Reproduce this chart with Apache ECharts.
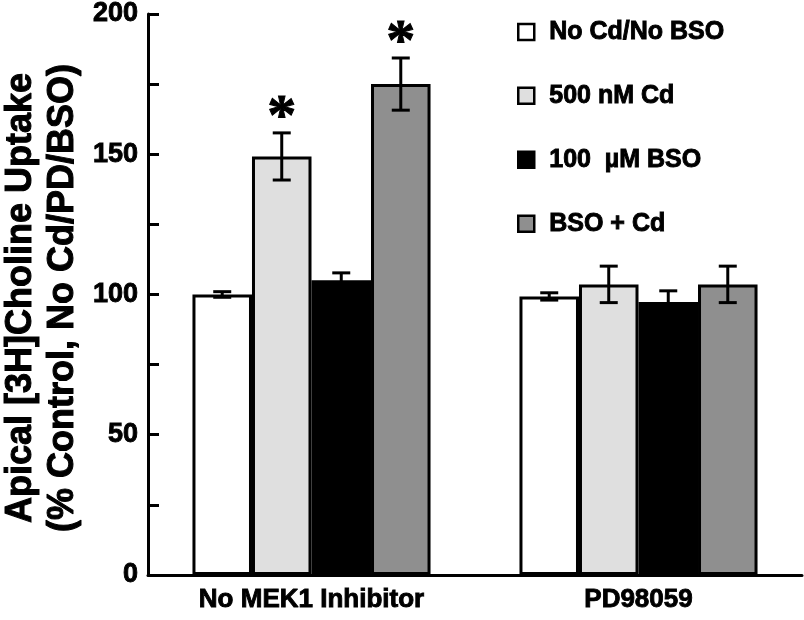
<!DOCTYPE html>
<html>
<head>
<meta charset="utf-8">
<script src="https://cdn.jsdelivr.net/npm/echarts@6/dist/echarts.min.js"></script>
<style>html,body{margin:0;padding:0;background:#fff}#c{width:804px;height:620px}</style>
</head>
<body>
<div id="c"></div>
<script>
// ---- data ----
const categories = ['No MEK1 Inhibitor', 'PD98059'];
const seriesNames = ['No Cd/No BSO', '500 nM Cd', '100  µM BSO', 'BSO + Cd'];
const noCdNoBso = [100, 99.3];
const cd500 = [149.2, 103.6];
const bso100 = [105.1, 97.3];
const bsoCd = [175, 103.6];
const errNoCdNoBso = [1, 1.3];
const errCd500 = [8.4, 6.5];
const errBso100 = [2.6, 4];
const errBsoCd = [9.3, 6.5];
const sigNoCdNoBso = ['', ''];
const sigCd500 = ['*', ''];
const sigBso100 = ['', ''];
const sigBsoCd = ['*', ''];
const yMin = 0, yMax = 200, yStep = 25, yLabelStep = 50;

// ---- chart ----
const BARW = 0.182;
const colors = ['#ffffff', '#dfdfdf', '#000000', '#8f8f8f'];
const vals = [noCdNoBso, cd500, bso100, bsoCd];
const errs = [errNoCdNoBso, errCd500, errBso100, errBsoCd];
const sigs = [sigNoCdNoBso, sigCd500, sigBso100, sigBsoCd];
const FONT = 'Liberation Sans, Arial, sans-serif';
const HEAVY = { textBorderColor: '#000', textBorderWidth: 0.9 };

const barSeries = vals.map((v, i) => ({
  name: seriesNames[i],
  type: 'bar',
  data: v,
  barWidth: (BARW * 100) + '%',
  barGap: '0%',
  itemStyle: { color: colors[i], borderColor: '#000', borderWidth: 3 },
  z: 2
}));

const errSeries = vals.map((v, i) => ({
  type: 'custom',
  data: v.map((val, j) => [j, val, errs[i][j]]),
  encode: { x: 0, y: 1 },
  z: 5,
  renderItem: function (params, api) {
    const cat = api.value(0), val = api.value(1), e = api.value(2);
    const band = api.size([1, 0])[0];
    const dx = (i - 1.5) * band * BARW;
    const top = api.coord([cat, val + e]);
    const bot = api.coord([cat, val - e]);
    const x = top[0] + dx;
    const cap = 9;
    const st = { stroke: '#000', lineWidth: 3 };
    const children = [
      { type: 'line', shape: { x1: x, y1: top[1], x2: x, y2: bot[1] }, style: st },
      { type: 'line', shape: { x1: x - cap, y1: top[1], x2: x + cap, y2: top[1] }, style: st },
      { type: 'line', shape: { x1: x - cap, y1: bot[1], x2: x + cap, y2: bot[1] }, style: st }
    ];
    const s = sigs[i][params.dataIndex];
    if (s) {
      children.push({
        type: 'text',
        style: { text: s, x: x, y: top[1] - 14, align: 'center', verticalAlign: 'middle',
          font: 'bold 58px "Liberation Serif", serif', fill: '#000', stroke: '#000', lineWidth: 1 }
      });
    }
    return { type: 'group', children: children };
  }
}));

const chart = echarts.init(document.getElementById('c'));
chart.setOption({
  animation: false,
  backgroundColor: '#fff',
  grid: { left: 148, right: 2, top: 13, bottom: 45, containLabel: false },
  legend: {
    data: seriesNames,
    orient: 'vertical',
    left: 517, top: 19,
    padding: 0,
    itemWidth: 16, itemHeight: 16,
    itemGap: 38,
    icon: 'rect',
    itemStyle: { borderColor: '#000', borderWidth: 2.5 },
    textStyle: Object.assign({ fontFamily: FONT, fontWeight: 'bold', fontSize: 25, color: '#000', lineHeight: 24, padding: [0, 0, 0, 10] }, HEAVY)
  },
  xAxis: {
    type: 'category',
    data: categories,
    axisLine: { lineStyle: { color: '#000', width: 3 } },
    axisTick: { inside: true, length: 10, lineStyle: { color: '#000', width: 3 } },
    axisLabel: Object.assign({ interval: 0, color: '#000', fontFamily: FONT, fontWeight: 'bold', fontSize: 26, margin: 12 }, HEAVY)
  },
  yAxis: {
    type: 'value',
    min: yMin, max: yMax, interval: yStep,
    axisLine: { show: true, lineStyle: { color: '#000', width: 3 } },
    axisTick: { show: true, inside: true, length: 11, lineStyle: { color: '#000', width: 3 } },
    splitLine: { show: false },
    axisLabel: Object.assign({ color: '#000', fontFamily: FONT, fontWeight: 'bold', fontSize: 27, margin: 10,
      formatter: v => (v % yLabelStep === 0 ? String(v) : '') }, HEAVY)
  },
  graphic: [{
    type: 'text',
    x: 42, y: 298,
    rotation: Math.PI / 2,
    style: {
      text: 'Apical [3H]Choline Uptake\n(% Control, No Cd/PD/BSO)',
      font: 'bold 36px "Liberation Sans", Arial, sans-serif',
      lineHeight: 42,
      align: 'center', verticalAlign: 'middle', fill: '#000', stroke: '#000', lineWidth: 1
    }
  }],
  series: barSeries.concat(errSeries)
});
</script>
</body>
</html>
